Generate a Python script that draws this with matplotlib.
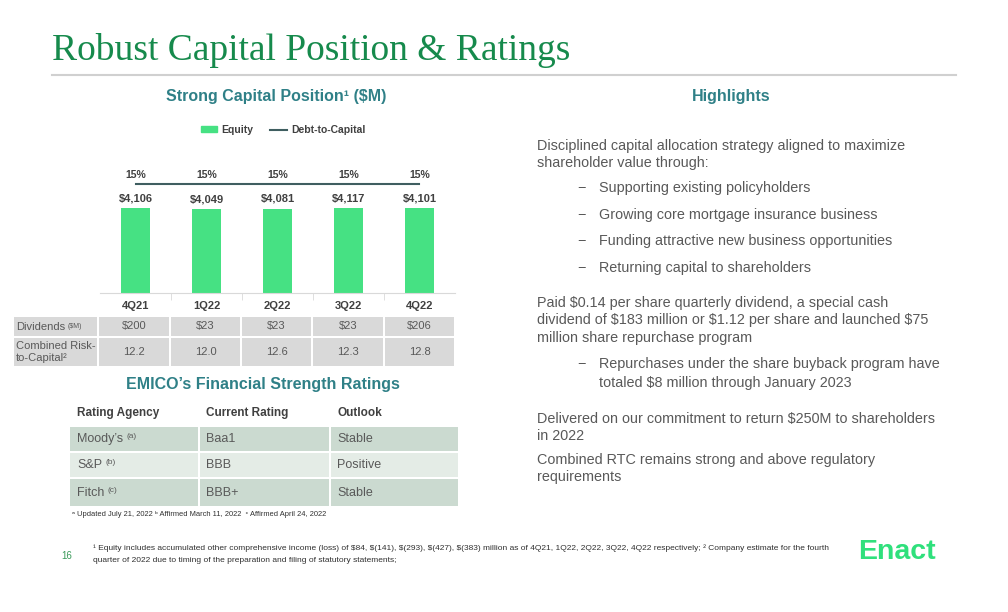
import matplotlib
matplotlib.use("Agg")
from matplotlib import pyplot as plt
from matplotlib.patches import Rectangle, Patch
from matplotlib.lines import Line2D

plt.rcParams['font.family'] = ['Liberation Sans', 'DejaVu Sans']

# data
quarters = ['4Q21', '1Q22', '2Q22', '3Q22', '4Q22']
equity = [4106, 4049, 4081, 4117, 4101]
debt_to_capital = [15, 15, 15, 15, 15]
dividends = ['$200', '$23', '$23', '$23', '$206']
risk_to_capital = [12.2, 12.0, 12.6, 12.3, 12.8]

agencies = ['Moody\u2019s', 'S&P', 'Fitch']
agency_notes = ['(a)', '(b)', '(c)']
ratings = ['Baa1', 'BBB', 'BBB+']
outlooks = ['Stable', 'Positive', 'Stable']

GREEN_BAR = '#46e183'
LINE_COL = '#3f5e60'
TEAL = '#2f8087'
GRAY_TXT = '#595959'
DARK_TXT = '#404040'

W, H = 1008, 612
fig = plt.figure(figsize=(W / 100, H / 100), dpi=100)

# slide layer in pixel coordinates
bg = fig.add_axes([0, 0, 1, 1])
bg.set_xlim(0, W)
bg.set_ylim(H, 0)
bg.axis('off')


def txt(x, y, s, **kw):
    kw.setdefault('va', 'center')
    kw.setdefault('color', GRAY_TXT)
    return bg.text(x, y, s, parse_math=False, **kw)


# header
txt(52, 50, 'Robust Capital Position & Ratings', fontsize=27, color='#168a4c',
    family='Liberation Serif')
bg.plot([52, 956], [75, 75], color='#d0d0d0', lw=1.5)

txt(276, 97, 'Strong Capital Position\u00b9 ($M)', fontsize=11.5, weight='bold',
    color=TEAL, ha='center')
txt(731, 97, 'Highlights', fontsize=11.5, weight='bold', color=TEAL, ha='center')

# chart
ax = fig.add_axes([100 / W, 1 - 293 / H, 355 / W, 118 / H])
x = range(len(quarters))
bars = ax.bar(x, equity, width=0.41, color=GREEN_BAR)
ax.set_xlim(-0.5, 4.5)
ax.set_ylim(0, 5700)
ax.set_yticks([])
for s in ['top', 'right', 'left']:
    ax.spines[s].set_visible(False)
ax.spines['bottom'].set_color('#d9d9d9')
ax.set_xticks(list(x))
ax.set_xticklabels(quarters, fontsize=8, weight='bold', color=DARK_TXT)
ax.tick_params(axis='x', which='major', length=0, pad=6)
ax.set_xticks([0.5, 1.5, 2.5, 3.5], minor=True)
ax.tick_params(axis='x', which='minor', length=5, color='#d9d9d9')
for xi, v in zip(x, equity):
    ax.annotate('${:,}'.format(v), (xi, v), xytext=(0, 7), textcoords='offset points',
                ha='center', va='center', fontsize=8, weight='bold', color=DARK_TXT)

ax2 = ax.twinx()
ax2.plot(list(x), debt_to_capital, color=LINE_COL, lw=1.5)
ax2.set_ylim(0, 16.24)
ax2.axis('off')
for xi, v in zip(x, debt_to_capital):
    ax2.annotate('{}%'.format(v), (xi, v), xytext=(0, 6.5), textcoords='offset points',
                 ha='center', va='center', fontsize=7.5, weight='bold', color=DARK_TXT)

handles = [Patch(color=GREEN_BAR), Line2D([], [], color=LINE_COL, lw=1.5)]
leg = fig.legend(handles, ['Equity', 'Debt-to-Capital'], loc='center', ncol=2,
                 bbox_to_anchor=(283 / W, 1 - 130 / H), frameon=False,
                 prop={'size': 7.5, 'weight': 'bold'}, handlelength=1.6,
                 handleheight=0.5, columnspacing=1.6, handletextpad=0.4)
for t in leg.get_texts():
    t.set_color(DARK_TXT)

# dividends / RTC table
col_edges = [13, 98, 170, 241, 312, 384, 455]
row_edges = [316, 337, 367]
for r in range(2):
    for c in range(6):
        bg.add_patch(Rectangle((col_edges[c] + 1, row_edges[r] + 1),
                               col_edges[c + 1] - col_edges[c] - 2,
                               row_edges[r + 1] - row_edges[r] - 2,
                               color='#d9d9d9', lw=0))
lab = txt(16, 326.5, 'Dividends', fontsize=8)
bg.annotate('($M)', xy=(1, 0), xycoords=lab, xytext=(2, 1), textcoords='offset points',
            va='bottom', fontsize=5, color=GRAY_TXT)
txt(16, 346, 'Combined Risk-', fontsize=8)
txt(16, 358, 'to-Capital\u00b2', fontsize=8)
for c in range(5):
    cx = (col_edges[c + 1] + col_edges[c + 2]) / 2
    txt(cx, 326.5, dividends[c], fontsize=8, ha='center')
    txt(cx, 352, '{:.1f}'.format(risk_to_capital[c]), fontsize=8, ha='center')

# ratings table
txt(263, 385, 'EMICO\u2019s Financial Strength Ratings', fontsize=11.5, weight='bold',
    color=TEAL, ha='center')
rcols = [69, 199, 330, 459]
rrows = [426, 452, 478, 507]
txt(77, 413, 'Rating Agency', fontsize=8.5, weight='bold', color=DARK_TXT)
txt(206, 413, 'Current Rating', fontsize=8.5, weight='bold', color=DARK_TXT)
txt(337, 413, 'Outlook', fontsize=8.5, weight='bold', color=DARK_TXT)
row_cols = ['#cbdad0', '#e4ece6', '#cbdad0']
for r in range(3):
    for c in range(3):
        bg.add_patch(Rectangle((rcols[c] + 1, rrows[r] + 1),
                               rcols[c + 1] - rcols[c] - 2,
                               rrows[r + 1] - rrows[r] - 2,
                               color=row_cols[r], lw=0))
    cy = (rrows[r] + rrows[r + 1]) / 2
    name = txt(77, cy, agencies[r], fontsize=9)
    bg.annotate(agency_notes[r], xy=(1, 1), xycoords=name, xytext=(2.5, 0),
                textcoords='offset points', va='top', fontsize=6, color=GRAY_TXT)
    txt(206, cy, ratings[r], fontsize=9)
    txt(337, cy, outlooks[r], fontsize=9)
txt(72, 514, '\u1d43 Updated July 21, 2022 \u1d47 Affirmed March 11, 2022  \u1d9c Affirmed April 24, 2022',
    fontsize=5.4, color='#303030')

# highlights text
body = [
    (537, 146, 'Disciplined capital allocation strategy aligned to maximize'),
    (537, 163, 'shareholder value through:'),
    (599, 188, 'Supporting existing policyholders'),
    (599, 215, 'Growing core mortgage insurance business'),
    (599, 241, 'Funding attractive new business opportunities'),
    (599, 268, 'Returning capital to shareholders'),
    (537, 303, 'Paid $0.14 per share quarterly dividend, a special cash'),
    (537, 320, 'dividend of $183 million or $1.12 per share and launched $75'),
    (537, 338, 'million share repurchase program'),
    (599, 364, 'Repurchases under the share buyback program have'),
    (599, 383, 'totaled $8 million through January 2023'),
    (537, 419, 'Delivered on our commitment to return $250M to shareholders'),
    (537, 436, 'in 2022'),
    (537, 460, 'Combined RTC remains strong and above regulatory'),
    (537, 477, 'requirements'),
]
for bx, by, s in body:
    txt(bx, by, s, fontsize=10.4)
for by in [188, 215, 241, 268, 364]:
    txt(577, by, '\u2212', fontsize=10.4)

# footer
txt(67, 556, '16', fontsize=7, color='#3a9a5a', ha='center')
txt(93, 548, '\u00b9 Equity includes accumulated other comprehensive income (loss) of $84, $(141), '
    '$(293), $(427), $(383) million as of 4Q21, 1Q22, 2Q22, 3Q22, 4Q22 respectively; '
    '\u00b2 Company estimate for the fourth', fontsize=6, color='#303030')
txt(93, 560, 'quarter of 2022 due to timing of the preparation and filing of statutory statements;',
    fontsize=6, color='#303030')
txt(858, 552, 'Enact', fontsize=20.5, weight='bold', color='#2fe07c')

fig.savefig('out.png', dpi=100)
